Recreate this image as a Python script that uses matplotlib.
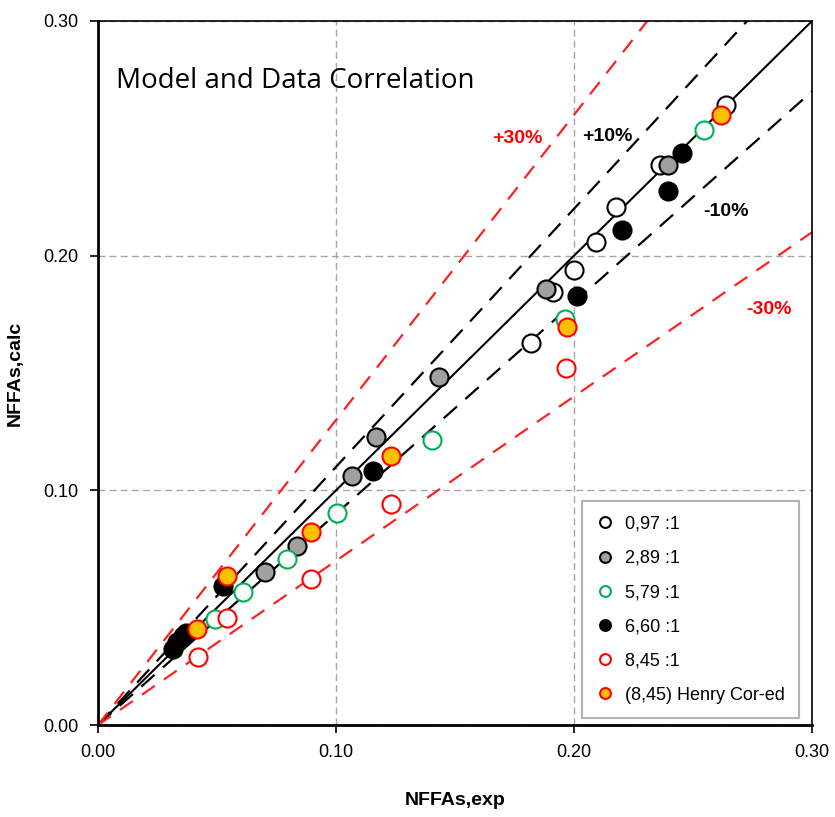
import numpy as np
import matplotlib.pyplot as plt

# data (x = NFFAs,exp ; y = NFFAs,calc)
x_097 = [0.264, 0.236, 0.2178, 0.2091, 0.200, 0.1912, 0.182]
y_097 = [0.264, 0.2386, 0.2209, 0.2057, 0.1939, 0.1847, 0.1626]

x_289 = [0.2395, 0.1881, 0.1434, 0.117, 0.1069, 0.0837, 0.070]
y_289 = [0.2386, 0.1857, 0.1484, 0.1228, 0.1061, 0.0763, 0.0652]

x_579 = [0.2546, 0.1961, 0.1402, 0.1005, 0.0792, 0.061, 0.049]
y_579 = [0.2535, 0.1729, 0.1214, 0.0905, 0.0709, 0.0565, 0.0451]

x_660 = [0.2452, 0.2393, 0.2202, 0.2014, 0.1156, 0.0525, 0.0371, 0.0357, 0.0332, 0.0315]
y_660 = [0.2438, 0.2275, 0.2109, 0.1826, 0.1082, 0.0593, 0.0394, 0.038, 0.0352, 0.0323]

x_845 = [0.1967, 0.1233, 0.0893, 0.054, 0.042]
y_845 = [0.1523, 0.0940, 0.0624, 0.0454, 0.0288]

x_henry = [0.2616, 0.197, 0.1229, 0.0893, 0.054, 0.0416]
y_henry = [0.2599, 0.1695, 0.1146, 0.0821, 0.0633, 0.0411]

labels = ['0,97 :1', '2,89 :1', '5,79 :1', '6,60 :1', '8,45 :1', '(8,45) Henry Cor-ed']

tick_font = ['Liberation Sans', 'DejaVu Sans']

fig = plt.figure(figsize=(8.35, 8.17), dpi=100)
ax = fig.add_axes([0.1174, 0.1126, 0.8551, 0.8617])

# reference lines
xl = np.array([0, 0.30])
ax.plot(xl, xl, color='black', lw=1.5, zorder=2)
ax.plot(xl, 1.1 * xl, color='black', lw=1.6, ls=(0, (8, 5)), zorder=2)
ax.plot(xl, 0.9 * xl, color='black', lw=1.6, ls=(0, (8, 5)), zorder=2)
ax.plot(xl, 1.3 * xl, color='#ff2020', lw=1.6, ls=(0, (7, 5)), zorder=2)
ax.plot(xl, 0.7 * xl, color='#ff2020', lw=1.6, ls=(0, (7, 5)), zorder=2)

ms = 13
ax.plot(x_097, y_097, 'o', ms=ms, mfc='white', mec='black', mew=1.5, zorder=3, label=labels[0])
ax.plot(x_289, y_289, 'o', ms=ms, mfc='#a0a0a0', mec='black', mew=1.5, zorder=3, label=labels[1])
ax.plot(x_579, y_579, 'o', ms=ms, mfc='white', mec='#00b050', mew=1.5, zorder=3, label=labels[2])
ax.plot(x_660, y_660, 'o', ms=ms, mfc='black', mec='black', mew=1.5, zorder=3, label=labels[3])
ax.plot(x_845, y_845, 'o', ms=ms, mfc='white', mec='#ff0000', mew=1.5, zorder=3, label=labels[4])
ax.plot(x_henry, y_henry, 'o', ms=ms, mfc='#ffc000', mec='#ff0000', mew=1.5, zorder=4, label=labels[5])

ax.set_xlim(0, 0.30)
ax.set_ylim(0, 0.30)
ax.set_xticks([0, 0.1, 0.2, 0.3])
ax.set_yticks([0, 0.1, 0.2, 0.3])
ax.set_xticklabels(['0.00', '0.10', '0.20', '0.30'], family=tick_font, fontsize=13)
ax.set_yticklabels(['0.00', '0.10', '0.20', '0.30'], family=tick_font, fontsize=13)
ax.tick_params(direction='out', length=6, width=1.2, pad=8)
ax.grid(True, color='#a6a6a6', ls=(0, (5, 3)), lw=1)

for s in ['left', 'bottom']:
    ax.spines[s].set_linewidth(2)
for s in ['top', 'right']:
    ax.spines[s].set_linewidth(1.2)

ax.set_xlabel('NFFAs,exp', family=tick_font, fontsize=14, fontweight='bold', labelpad=22)
ax.set_ylabel('NFFAs,calc', family=tick_font, fontsize=14, fontweight='bold', labelpad=14)

ax.text(0.0075, 0.2715, 'Model and Data Correlation', fontsize=20, family=['Open Sans', 'DejaVu Sans'])
ax.text(0.176, 0.248, '+30%', color='#ff0000', fontsize=14, fontweight='bold', family=tick_font, ha='center')
ax.text(0.214, 0.249, '+10%', color='black', fontsize=14, fontweight='bold', family=tick_font, ha='center')
ax.text(0.264, 0.217, '-10%', color='black', fontsize=14, fontweight='bold', family=tick_font, ha='center')
ax.text(0.282, 0.175, '-30%', color='#ff0000', fontsize=14, fontweight='bold', family=tick_font, ha='center')

leg = ax.legend(loc='lower right', bbox_to_anchor=(0.982, 0.01), borderaxespad=0, fancybox=False,
                edgecolor='#a0a0a0', markerscale=0.6, handlelength=1.0, handletextpad=0.6,
                labelspacing=0.95, borderpad=0.8, prop={'family': tick_font, 'size': 13})
leg.get_frame().set_linewidth(1.5)

plt.savefig('out.png', dpi=100)
